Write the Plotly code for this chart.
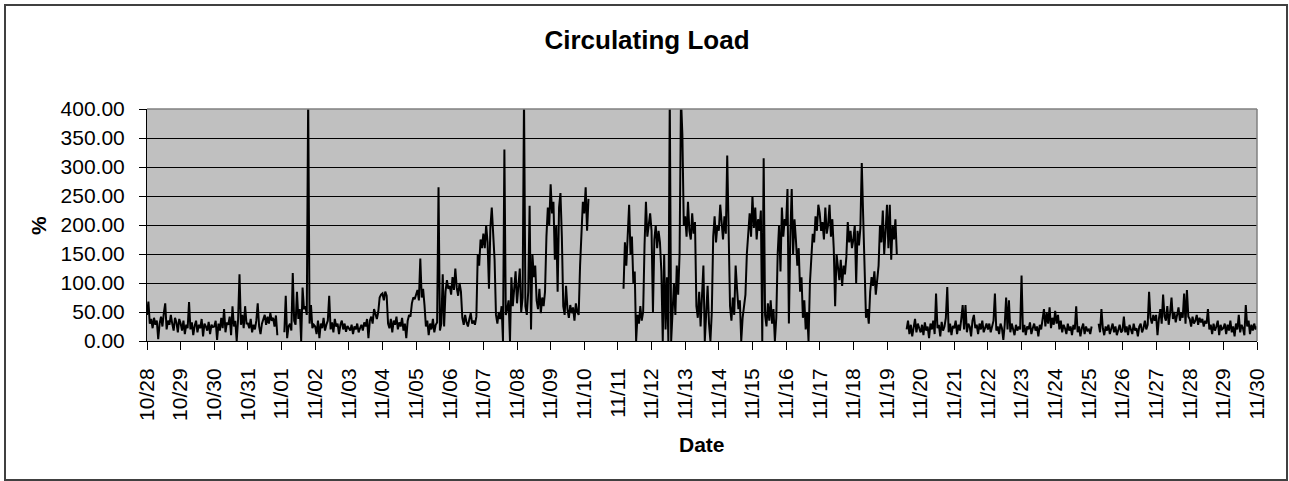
import pandas as pd
import plotly.graph_objects as go

# Hourly circulating load readings (%), one list per day, 00:00 .. 23:00.
# None marks hours with no reading (the line breaks there).
d1028 = [45, 68, 30, 38, 22, 40, 28, 35, 3, 30, 42, 25, 48, 65, 20, 35, 28, 45, 30, 18, 40, 32, 15, 38]
d1029 = [30, 18, 35, 12, 28, 22, 67, 20, 32, 10, 26, 35, 15, 28, 22, 38, 8, 30, 25, 18, 33, 12, 28, 24]
d1030 = [25, 35, 2, 30, 18, 40, 22, 55, 15, 32, 28, 42, 10, 60, 25, 35, 0, 38, 115, 28, 45, 22, 60, 30]
d1031 = [30, 22, 38, 15, 28, 20, 35, 65, 25, 12, 30, 38, 45, 28, 42, 30, 48, 35, 40, 25, 44, 10, None, None]
d1101 = [None, None, 15, 78, 5, 25, 30, 18, 117, 35, 28, 85, 38, 55, 0, 92, 55, 60, 45, 420, 30, 62, 22, 28]
d1102 = [25, 12, 35, 5, 30, 22, 40, 18, 28, 35, 78, 20, 32, 15, 38, 25, 30, 12, 28, 35, 20, 30, 16, 26]
d1103 = [22, 18, 28, 12, 25, 20, 30, 15, 22, 28, 18, 32, 25, 38, 5, 35, 42, 30, 55, 45, 38, 50, 75, 80]
d1104 = [82, 70, 85, 78, 30, 22, 38, 15, 35, 28, 42, 20, 32, 25, 40, 18, 30, 5, 35, 45, 42, 65, 75, 72]
d1105 = [80, 88, 70, 142, 75, 90, 62, 25, 35, 10, 30, 20, 38, 15, 28, 32, 265, 18, 30, 115, 25, 85, 105, 90]
d1106 = [95, 80, 110, 88, 125, 92, 78, 100, 85, 40, 28, 45, 32, 25, 38, 48, 30, 35, 28, 42, 150, 130, 175, 160]
d1107 = [185, 160, 200, 170, 90, 195, 230, 180, 140, 45, 30, 50, 38, 60, 0, 330, 45, 55, 70, 0, 110, 60, 85, 120]
d1108 = [65, 90, 125, 50, 75, 420, 60, 45, 85, 233, 20, 150, 110, 130, 70, 55, 90, 48, 75, 60, 85, 180, 230, 200]
d1109 = [270, 220, 240, 140, 200, 85, 230, 255, 180, 60, 45, 95, 55, 40, 62, 48, 58, 35, 65, 50, 45, 130, 200, 240]
d1110 = [220, 265, 190, 245] + [None] * 20
d1111 = [None, None, None, None, 90, 170, 130, 200, 235, 150, 180, 100, 120, 0, 45, 30, 60, 35, 50, 165, 240, 180, 200, 220]
d1112 = [190, 50, 175, 200, 160, 190, 170, 120, 0, 150, 20, 110, 0, 420, 0, 60, 100, 45, 130, 80, 150, 420, 355, 200]
d1113 = [215, 180, 240, 190, 175, 220, 185, 205, 60, 40, 85, 25, 70, 130, 0, 55, 95, 30, 0, 50, 180, 215, 170, 200]
d1114 = [190, 235, 200, 175, 215, 185, 320, 205, 60, 35, 75, 45, 130, 90, 55, 70, 0, 40, 65, 80, 150, 195, 220, 180]
d1115 = [250, 195, 230, 175, 210, 190, 225, 0, 315, 45, 25, 65, 35, 70, 30, 55, 0, 40, 150, 200, 120, 230, 180, 210]
d1116 = [200, 262, 30, 180, 262, 150, 210, 175, 130, 160, 85, 110, 40, 70, 20, 50, 0, 100, 140, 185, 170, 215, 190, 235]
d1117 = [220, 190, 205, 175, 230, 185, 200, 235, 180, 210, 160, 60, 150, 120, 105, 140, 95, 130, 115, 145, 205, 170, 190, 160]
d1118 = [175, 200, 100, 190, 165, 195, 307, 215, 120, 40, 55, 30, 85, 110, 95, 120, 80, 105, 130, 200, 170, 225, 150, 190]
d1119 = [235, 160, 235, 140, 200, 175, 210, 150, None, None, None, None, None, None, 20, 35, 12, 28, 8, 25, 38, 15, 30, 22]
d1120 = [15, 28, 10, 32, 18, 25, 5, 30, 20, 35, 12, 82, 22, 28, 8, 33, 18, 25, 40, 93, 15, 30, 10, 26]
d1121 = [22, 35, 12, 28, 18, 38, 62, 20, 62, 15, 30, 25, 8, 35, 45, 22, 28, 12, 30, 20, 35, 15, 25, 30]
d1122 = [20, 30, 15, 28, 35, 82, 18, 25, 12, 30, 22, 2, 28, 75, 20, 70, 15, 30, 22, 10, 28, 18, 25, 20]
d1123 = [113, 15, 28, 10, 25, 20, 32, 12, 22, 30, 18, 25, 8, 28, 20, 35, 55, 25, 48, 30, 58, 22, 40, 28]
d1124 = [52, 30, 45, 20, 35, 15, 28, 22, 12, 30, 18, 25, 10, 28, 20, 60, 15, 25, 8, 22, 30, 12, 25, 18]
d1125 = [20, 12, 25, None, None, None, None, 30, 15, 55, 22, 10, 25, 18, 28, 12, 22, 30, 15, 25, 10, 20, 28, 15]
d1126 = [18, 42, 15, 25, 10, 28, 20, 12, 30, 18, 22, 8, 25, 30, 15, 22, 35, 20, 28, 85, 40, 30, 45, 35]
d1127 = [45, 10, 38, 55, 30, 80, 42, 35, 60, 28, 48, 75, 38, 50, 32, 45, 58, 35, 48, 40, 82, 30, 88, 42]
d1128 = [38, 25, 42, 30, 35, 45, 28, 40, 32, 38, 25, 35, 30, 55, 20, 28, 12, 30, 18, 25, 35, 10, 28, 20]
d1129 = [22, 30, 12, 28, 18, 35, 15, 25, 8, 30, 20, 45, 15, 28, 22, 10, 62, 25, 35, 12, 28, 18, 30, 20]
d1130 = [25]

days = [d1028, d1029, d1030, d1031, d1101, d1102, d1103, d1104, d1105, d1106,
        d1107, d1108, d1109, d1110, d1111, d1112, d1113, d1114, d1115, d1116,
        d1117, d1118, d1119, d1120, d1121, d1122, d1123, d1124, d1125, d1126,
        d1127, d1128, d1129, d1130]

load = [v for day in days for v in day]
times = pd.date_range("2006-10-28 00:00", periods=len(load), freq="h")

y_ticks = [0, 50, 100, 150, 200, 250, 300, 350, 400]

FONT = "Liberation Sans, Arial, sans-serif"

# plot-area geometry in pixels
W, H = 1289, 481
L, R, T, B = 147, 1257, 109, 341
pw, ph = R - L, B - T


def px_x(x):
    return (x - L) / pw


def px_y(y):
    return (B - y) / ph


fig = go.Figure()
fig.add_trace(go.Scatter(
    x=times, y=load, mode="lines",
    line=dict(color="black", width=2),
    connectgaps=False, showlegend=False,
))

fig.update_layout(
    width=W, height=H,
    margin=dict(l=L, r=W - R, t=T, b=H - B, pad=0),
    paper_bgcolor="white",
    plot_bgcolor="#C0C0C0",
    font=dict(family=FONT, color="black"),
    title=dict(
        text="<b>Circulating Load</b>",
        font=dict(family=FONT, size=26, color="black"),
        x=647 / W, xref="container", xanchor="center",
        y=1 - 40 / H, yref="container", yanchor="middle",
    ),
    xaxis=dict(
        type="date",
        range=["2006-10-28", "2006-11-30"],
        tick0="2006-10-28", dtick=86400000,
        tickformat="%m/%d", tickangle=-90,
        ticks="outside", ticklen=8, tickcolor="black", tickwidth=1,
        tickfont=dict(family=FONT, size=21, color="black"),
        ticklabelstandoff=10,
        showgrid=False, zeroline=False,
        showline=True, linecolor="black", linewidth=1,
        automargin=False, fixedrange=True,
    ),
    yaxis=dict(
        range=[0, 400],
        tickvals=y_ticks, tickformat=".2f",
        ticks="outside", ticklen=7, tickcolor="black", tickwidth=1,
        tickfont=dict(family=FONT, size=21, color="black"),
        ticklabelstandoff=10,
        showgrid=True, gridcolor="black", gridwidth=1,
        zeroline=False,
        showline=True, linecolor="black", linewidth=1,
        automargin=False, fixedrange=True,
    ),
    shapes=[
        # grey frame on the top and right of the plot area
        dict(type="line", xref="paper", yref="paper", x0=0, x1=1, y0=1, y1=1,
             line=dict(color="#808080", width=1.5), layer="above"),
        dict(type="line", xref="paper", yref="paper", x0=1, x1=1, y0=0, y1=1,
             line=dict(color="#808080", width=1.5), layer="above"),
        # chart border
        dict(type="rect", xref="paper", yref="paper",
             x0=px_x(5), x1=px_x(1287), y0=px_y(480), y1=px_y(5),
             line=dict(color="#404040", width=2), fillcolor="rgba(0,0,0,0)",
             layer="above"),
    ],
    annotations=[
        dict(text="<b>%</b>", xref="paper", yref="paper",
             x=px_x(38), y=px_y(226), xanchor="center", yanchor="middle",
             textangle=-90, showarrow=False,
             font=dict(family=FONT, size=21, color="black")),
        dict(text="<b>Date</b>", xref="paper", yref="paper",
             x=px_x(702), y=px_y(444), xanchor="center", yanchor="middle",
             showarrow=False,
             font=dict(family=FONT, size=21, color="black")),
    ],
)

fig.write_html("out.html", config={"displayModeBar": False})
